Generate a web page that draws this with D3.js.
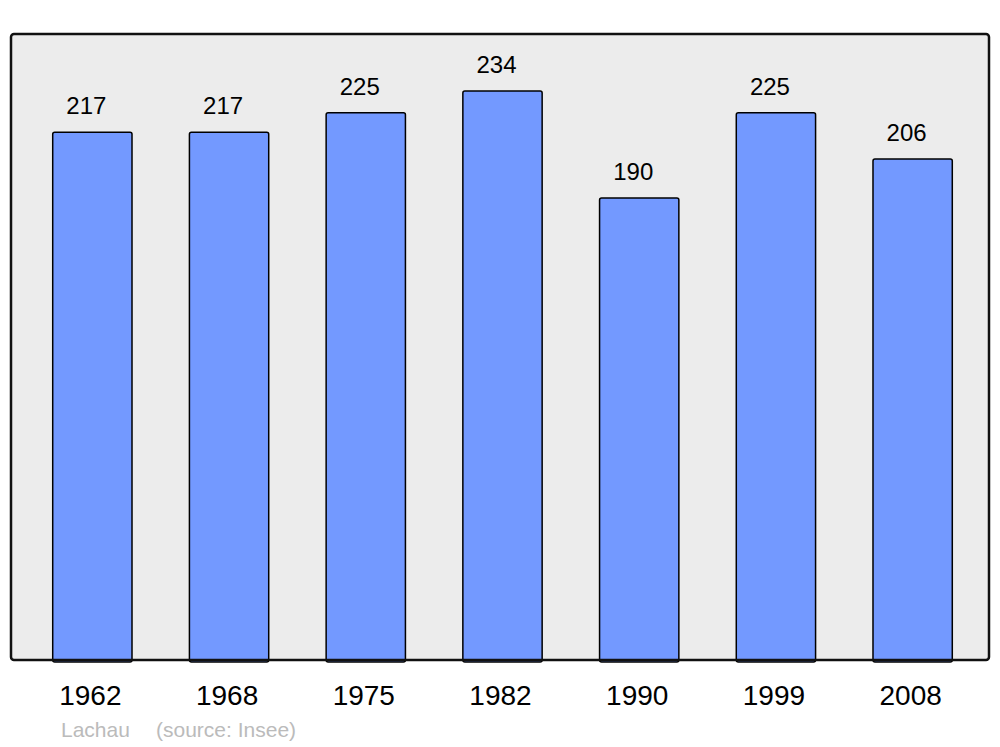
<!DOCTYPE html>
<meta charset="utf-8">
<style>
    body {
        margin: 0;
        overflow: hidden;
        background: #fff;
    }
    text {
        font-family: "Liberation Sans", Arial, sans-serif;
    }
</style>
<svg id="canvas" width="1000" height="747"></svg>
<script src="https://d3js.org/d3.v7.min.js"></script>
<script>

    var years = ["1962", "1968", "1975", "1982", "1990", "1999", "2008"];
    var population = [217, 217, 225, 234, 190, 225, 206];
    var town = "Lachau";
    var source = "(source: Insee)";

    var svg = d3.select("svg");

    var frame = {left: 11, top: 34, right: 989, bottom: 660};

    var x = d3.scaleBand()
              .domain(years)
              .range([24, 981])
              .paddingInner(0.42)
              .paddingOuter(0.21);

    var y = d3.scaleLinear()
              .domain([0, d3.max(population) * 1.1])
              .range([frame.bottom, frame.top]);

    // background of the plot area
    svg.append("rect")
       .attr("x", frame.left)
       .attr("y", frame.top)
       .attr("width", frame.right - frame.left)
       .attr("height", frame.bottom - frame.top)
       .attr("rx", 3)
       .attr("fill", "#ececec");

    var data = years.map(function(d, i) { return {year: d, value: population[i]}; });

    svg.append("g")
       .selectAll("rect")
       .data(data)
       .enter().append("rect")
       .attr("x", function(d) { return x(d.year); })
       .attr("y", function(d) { return y(d.value); })
       .attr("width", x.bandwidth())
       .attr("height", function(d) { return y(0) - y(d.value) + 2; })
       .attr("rx", 2)
       .attr("fill", "#7399ff")
       .attr("stroke", "#000")
       .attr("stroke-width", 1.5);

    // value labels
    svg.append("g")
       .selectAll("text")
       .data(data)
       .enter().append("text")
       .attr("x", function(d) { return x(d.year) + x.bandwidth() / 2 - 6; })
       .attr("y", function(d) { return y(d.value) - 18; })
       .attr("text-anchor", "middle")
       .attr("font-size", 24)
       .attr("fill", "#000")
       .text(function(d) { return d.value; });

    // frame on top
    svg.append("rect")
       .attr("x", frame.left)
       .attr("y", frame.top)
       .attr("width", frame.right - frame.left)
       .attr("height", frame.bottom - frame.top)
       .attr("rx", 3)
       .attr("fill", "none")
       .attr("stroke", "#111")
       .attr("stroke-width", 2.5);

    // year labels
    svg.append("g")
       .selectAll("text")
       .data(years)
       .enter().append("text")
       .attr("x", function(d) { return x(d) + x.bandwidth() / 2 - 2; })
       .attr("y", 705)
       .attr("text-anchor", "middle")
       .attr("font-size", 28)
       .attr("fill", "#000")
       .text(function(d) { return d; });

    svg.append("text")
       .attr("x", 61)
       .attr("y", 737)
       .attr("font-size", 21)
       .attr("fill", "#bbb")
       .text(town);

    svg.append("text")
       .attr("x", 156)
       .attr("y", 737)
       .attr("font-size", 21)
       .attr("fill", "#bbb")
       .text(source);

</script>
